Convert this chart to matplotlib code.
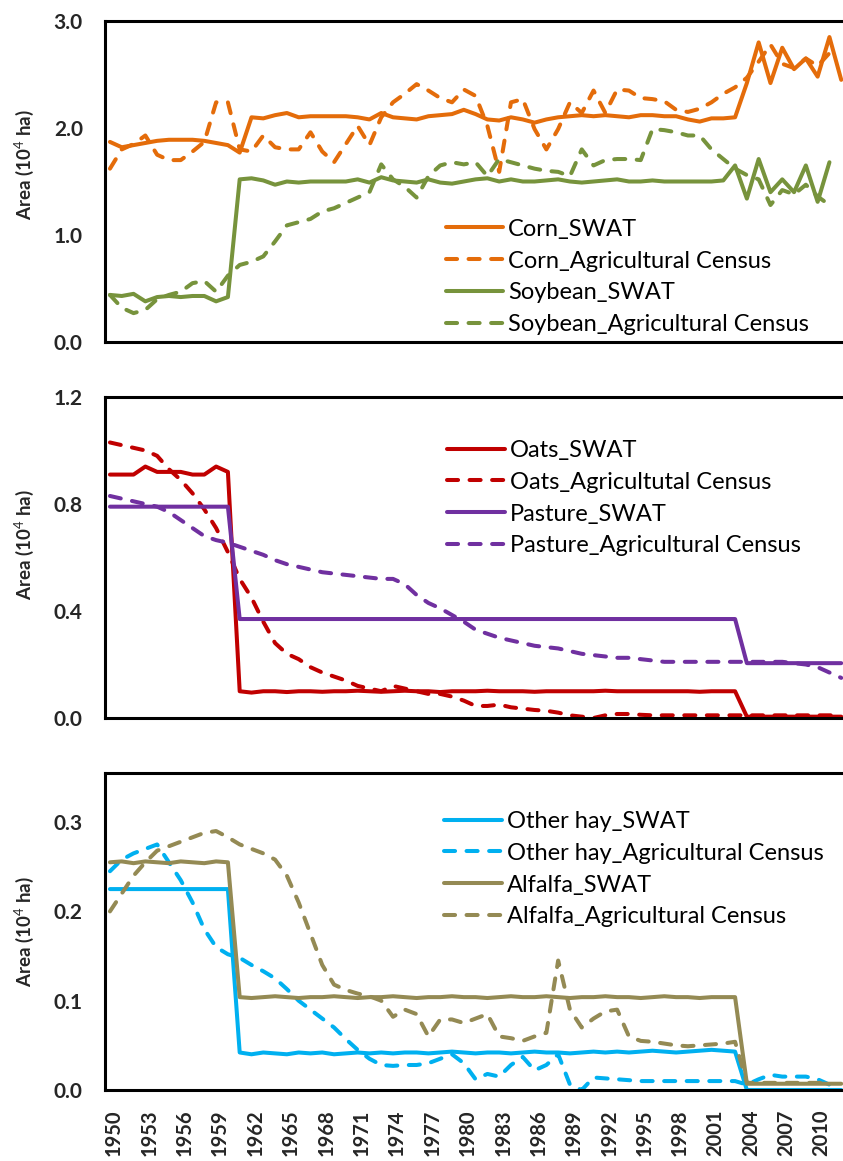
import numpy as np
import matplotlib
matplotlib.use("Agg")
import matplotlib.pyplot as plt
import matplotlib.transforms as mtransforms

plt.rcParams['font.family'] = ['Lato', 'DejaVu Sans']
plt.rcParams['mathtext.fontset'] = 'custom'
plt.rcParams['mathtext.rm'] = 'Lato'
plt.rcParams['mathtext.bf'] = 'Lato:bold'

# Crop area by year, 10^4 ha
years = list(range(1950, 2013))

corn_swat = [1.87, 1.82, 1.84, 1.86, 1.88, 1.89, 1.89, 1.89, 1.88, 1.86, 1.84, 1.77,
             2.10, 2.09, 2.12, 2.14, 2.10, 2.11, 2.11, 2.11, 2.11, 2.10, 2.08, 2.14,
             2.10, 2.09, 2.08, 2.11, 2.12, 2.13, 2.17, 2.13, 2.08, 2.07, 2.10, 2.08,
             2.05, 2.08, 2.10, 2.11, 2.12, 2.11, 2.12, 2.11, 2.10, 2.12, 2.12, 2.11,
             2.11, 2.08, 2.06, 2.09, 2.09, 2.10, 2.42, 2.80, 2.42, 2.75, 2.55, 2.65,
             2.48, 2.85, 2.45]
corn_census = [1.62, 1.80, 1.85, 1.93, 1.75, 1.70, 1.70, 1.78, 1.87, 2.24, 2.24, 1.80,
               1.78, 1.93, 1.82, 1.80, 1.80, 1.96, 1.78, 1.68, 1.85, 2.02, 1.84, 2.10,
               2.24, 2.32, 2.41, 2.35, 2.28, 2.24, 2.36, 2.30, 2.02, 1.59, 2.24, 2.27,
               1.99, 1.80, 1.99, 2.24, 2.14, 2.35, 2.14, 2.36, 2.35, 2.28, 2.27, 2.25,
               2.17, 2.15, 2.18, 2.24, 2.32, 2.38, 2.47, 2.62, 2.78, 2.60, 2.56, 2.65,
               2.58, 2.70]
soy_swat = [0.44, 0.43, 0.45, 0.38, 0.42, 0.43, 0.42, 0.43, 0.43, 0.38, 0.42, 1.52,
            1.53, 1.51, 1.47, 1.50, 1.49, 1.50, 1.50, 1.50, 1.50, 1.52, 1.49, 1.54,
            1.51, 1.50, 1.49, 1.52, 1.49, 1.48, 1.50, 1.52, 1.53, 1.50, 1.52, 1.50,
            1.50, 1.51, 1.52, 1.50, 1.49, 1.50, 1.51, 1.52, 1.50, 1.50, 1.51, 1.50,
            1.50, 1.50, 1.50, 1.50, 1.51, 1.65, 1.34, 1.71, 1.40, 1.52, 1.40, 1.65,
            1.31, 1.68]
soy_census = [0.44, 0.32, 0.27, 0.30, 0.40, 0.44, 0.47, 0.55, 0.57, 0.47, 0.62, 0.72,
              0.75, 0.80, 0.94, 1.09, 1.12, 1.15, 1.22, 1.25, 1.30, 1.35, 1.40, 1.66,
              1.52, 1.45, 1.35, 1.55, 1.65, 1.68, 1.66, 1.68, 1.55, 1.71, 1.68, 1.65,
              1.62, 1.60, 1.59, 1.55, 1.80, 1.65, 1.70, 1.71, 1.71, 1.70, 1.99, 1.98,
              1.96, 1.93, 1.93, 1.80, 1.71, 1.62, 1.56, 1.52, 1.28, 1.42, 1.38, 1.47,
              1.36, 1.28]

oats_swat = [0.91, 0.91, 0.91, 0.94, 0.92, 0.92, 0.92, 0.91, 0.91, 0.94, 0.92, 0.10,
             0.095, 0.10, 0.10, 0.097, 0.10, 0.10, 0.098, 0.10, 0.10, 0.102, 0.10, 0.098,
             0.10, 0.102, 0.10, 0.10, 0.097, 0.10, 0.10, 0.10, 0.102, 0.10, 0.10, 0.10,
             0.098, 0.10, 0.10, 0.10, 0.10, 0.10, 0.102, 0.10, 0.10, 0.10, 0.10, 0.10,
             0.10, 0.10, 0.098, 0.10, 0.10, 0.10, 0.005, 0.005, 0.005, 0.005, 0.005, 0.005,
             0.005, 0.005, 0.005]
oats_census = [1.03, 1.02, 1.01, 1.00, 0.98, 0.93, 0.89, 0.84, 0.78, 0.71, 0.62, 0.52,
               0.45, 0.36, 0.28, 0.24, 0.22, 0.19, 0.17, 0.155, 0.14, 0.12, 0.11, 0.10,
               0.12, 0.11, 0.10, 0.09, 0.09, 0.08, 0.065, 0.045, 0.045, 0.05, 0.04, 0.035,
               0.03, 0.027, 0.02, 0.01, 0.005, 0.0, 0.01, 0.015, 0.015, 0.012, 0.01, 0.01,
               0.01, 0.01, 0.01, 0.01, 0.01, 0.01, 0.01, 0.01, 0.01, 0.01, 0.01, 0.01,
               0.01, 0.01, 0.01]
pasture_swat = [0.79] * 11 + [0.37] * 43 + [0.205] * 9
pasture_census = [0.83, 0.82, 0.81, 0.80, 0.79, 0.77, 0.74, 0.71, 0.68, 0.665, 0.655, 0.64,
                  0.625, 0.61, 0.59, 0.575, 0.565, 0.555, 0.545, 0.54, 0.535, 0.53, 0.525, 0.52,
                  0.52, 0.50, 0.46, 0.43, 0.41, 0.385, 0.36, 0.33, 0.315, 0.30, 0.29, 0.28,
                  0.27, 0.265, 0.26, 0.25, 0.24, 0.235, 0.23, 0.225, 0.225, 0.22, 0.215, 0.21,
                  0.21, 0.21, 0.21, 0.21, 0.21, 0.21, 0.21, 0.21, 0.21, 0.21, 0.205, 0.20,
                  0.19, 0.17, 0.15]

hay_swat = [0.225] * 11 + [0.042, 0.040, 0.042, 0.041, 0.040, 0.042, 0.041, 0.042, 0.040,
            0.041, 0.042, 0.041, 0.042, 0.041, 0.042, 0.042, 0.041, 0.042, 0.043, 0.042,
            0.041, 0.042, 0.042, 0.041, 0.042, 0.043, 0.042, 0.042, 0.041, 0.042, 0.043,
            0.042, 0.043, 0.042, 0.043, 0.044, 0.043, 0.042, 0.043, 0.044, 0.045, 0.044,
            0.043] + [0.0] * 9
hay_census = [0.245, 0.258, 0.265, 0.270, 0.275, 0.255, 0.235, 0.21, 0.18, 0.16, 0.152, 0.148,
              0.14, 0.133, 0.125, 0.113, 0.10, 0.09, 0.08, 0.07, 0.057, 0.045, 0.035, 0.028,
              0.027, 0.028, 0.028, 0.03, 0.035, 0.04, 0.03, 0.012, 0.018, 0.015, 0.028, 0.037,
              0.022, 0.028, 0.04, 0.006, 0.0, 0.014, 0.013, 0.012, 0.011, 0.01, 0.01, 0.01,
              0.01, 0.01, 0.01, 0.01, 0.01, 0.01, 0.006, 0.012, 0.017, 0.015, 0.015, 0.015,
              0.012, 0.006]
alfalfa_swat = [0.255, 0.256, 0.254, 0.256, 0.255, 0.254, 0.256, 0.255, 0.254, 0.256, 0.255,
                0.104, 0.103, 0.104, 0.105, 0.104, 0.103, 0.104, 0.104, 0.105, 0.104, 0.103,
                0.104, 0.104, 0.105, 0.104, 0.103, 0.104, 0.104, 0.105, 0.104, 0.104, 0.103,
                0.104, 0.105, 0.104, 0.104, 0.105, 0.104, 0.103, 0.104, 0.104, 0.105, 0.104,
                0.104, 0.103, 0.104, 0.105, 0.104, 0.104, 0.103, 0.104, 0.104, 0.104,
                0.007, 0.007, 0.007, 0.007, 0.007, 0.007, 0.007, 0.007, 0.007]
alfalfa_census = [0.20, 0.22, 0.24, 0.255, 0.268, 0.273, 0.278, 0.283, 0.288, 0.29, 0.283, 0.275,
                  0.27, 0.265, 0.258, 0.24, 0.21, 0.175, 0.14, 0.118, 0.112, 0.108, 0.105, 0.10,
                  0.082, 0.09, 0.085, 0.06, 0.079, 0.079, 0.075, 0.08, 0.085, 0.06, 0.058, 0.055,
                  0.06, 0.064, 0.145, 0.09, 0.07, 0.08, 0.088, 0.09, 0.06, 0.055, 0.054, 0.052,
                  0.05, 0.049, 0.05, 0.051, 0.052, 0.054, 0.008, 0.008, 0.008, 0.008, 0.008, 0.008,
                  0.008, 0.008]

ORANGE = '#E46C0A'
GREEN = '#77933C'
RED = '#C00000'
PURPLE = '#7030A0'
BLUE = '#00B0F0'
OLIVE = '#948A54'

panels = [
    dict(rect=(21, 342), ylim=3.0, yticks=[0.0, 1.0, 2.0, 3.0],
         legend=(0.4614, 0.384), label_y=0.551,
         series=[(corn_swat, ORANGE, '-', 'Corn_SWAT'),
                 (corn_census, ORANGE, '--', 'Corn_Agricultural Census'),
                 (soy_swat, GREEN, '-', 'Soybean_SWAT'),
                 (soy_census, GREEN, '--', 'Soybean_Agricultural Census')]),
    dict(rect=(397, 718), ylim=1.2, yticks=[0.0, 0.4, 0.8, 1.2],
         legend=(0.464, 0.8667), label_y=0.539,
         series=[(oats_swat, RED, '-', 'Oats_SWAT'),
                 (oats_census, RED, '--', 'Oats_Agricultutal Census'),
                 (pasture_swat, PURPLE, '-', 'Pasture_SWAT'),
                 (pasture_census, PURPLE, '--', 'Pasture_Agricultural Census')]),
    dict(rect=(773, 1090), ylim=0.355, yticks=[0.0, 0.1, 0.2, 0.3],
         legend=(0.459, 0.8807), label_y=0.498,
         series=[(hay_swat, BLUE, '-', 'Other hay_SWAT'),
                 (hay_census, BLUE, '--', 'Other hay_Agricultural Census'),
                 (alfalfa_swat, OLIVE, '-', 'Alfalfa_SWAT'),
                 (alfalfa_census, OLIVE, '--', 'Alfalfa_Agricultural Census')]),
]

W, H = 843, 1161
fig = plt.figure(figsize=(W / 100, H / 100), dpi=100)

LW = 2.9
left_px = 105
for i, p in enumerate(panels):
    top, bottom = p['rect']
    ax = fig.add_axes([left_px / W, 1 - bottom / H, (W - left_px) / W, (bottom - top) / H])
    for vals, color, ls, name in p['series']:
        style = dict(linestyle='-') if ls == '-' else dict(linestyle=(0, (2.75, 2.85)))
        ax.plot(years[:len(vals)], vals, color=color, lw=LW, label=name,
                solid_capstyle='round', dash_capstyle='round', solid_joinstyle='round',
                **style)
    ax.set_xlim(1949.58, 2012.15)
    ax.set_ylim(0, p['ylim'])
    ax.set_yticks(p['yticks'])
    ax.set_yticklabels(['{:.1f}'.format(v) for v in p['yticks']])
    ax.set_xticks(years[::3])
    ax.tick_params(length=0, labelsize=15, pad=16, labelcolor='#262626')
    for lab in ax.get_yticklabels():
        lab.set_fontweight('bold')
    if i < 2:
        ax.tick_params(axis='x', labelbottom=False)
    else:
        ax.set_xticklabels([str(y) for y in years[::3]], rotation=90, fontweight='bold')
        ax.tick_params(axis='x', pad=14, labelsize=14.5)
        shift = mtransforms.ScaledTranslation(4 / 100, 0, fig.dpi_scale_trans)
        for lab in ax.get_xticklabels():
            lab.set_transform(lab.get_transform() + shift)
    for side in ['left', 'top', 'bottom']:
        ax.spines[side].set_linewidth(2.2)
        ax.spines[side].set_color('black')
    ax.spines['right'].set_visible(False)
    ax.set_ylabel('Area (10$^{4}$ ha)', fontsize=13.5, fontweight='bold', color='#262626')
    ax.yaxis.set_label_coords(-0.0934, p['label_y'])
    ax.legend(loc='upper left', bbox_to_anchor=p['legend'], frameon=False,
              fontsize=17, handlelength=2.45, handletextpad=0.21, labelspacing=0.46,
              borderpad=0, borderaxespad=0)

fig.savefig('out.png', dpi=100)
